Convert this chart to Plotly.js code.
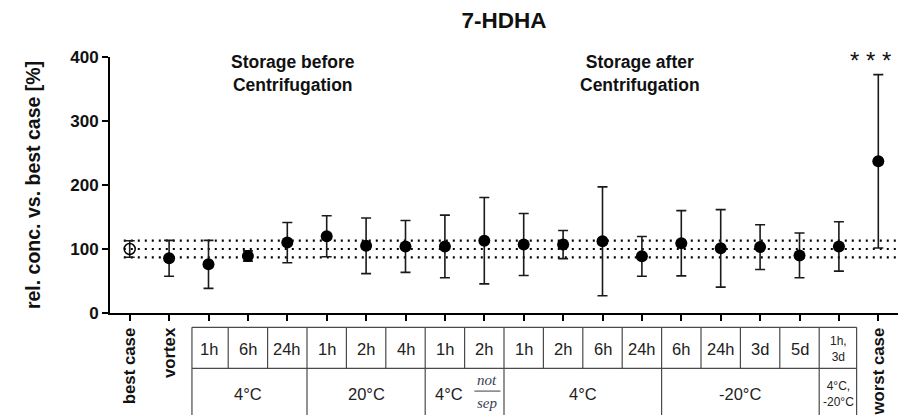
<!DOCTYPE html>
<html>
<head>
<meta charset="utf-8">
<script src="https://cdn.plot.ly/plotly-3.0.1.min.js"></script>
<style>html,body{margin:0;padding:0;background:#fff;}#chart{width:900px;height:415px;}</style>
</head>
<body>
<div id="chart"></div>
<script>
// ---- data ----
const categories = ['best case','vortex','4°C 1h','4°C 6h','4°C 24h','20°C 1h','20°C 2h','20°C 4h',
  '4°C 1h (before)','not sep 2h','4°C 1h (after)','4°C 2h (after)','4°C 6h (after)','4°C 24h (after)',
  '-20°C 6h','-20°C 24h','-20°C 3d','-20°C 5d','4°C,-20°C 1h,3d','worst case'];
const means  = [100, 85.5, 76, 89, 110, 120, 105, 104, 104, 113, 107, 107, 112, 88.5, 109, 101, 103, 90, 104, 237];
const errors = [13, 28, 37.5, 8, 31.5, 32, 43.5, 40.5, 49, 67.5, 48.5, 22, 85, 31, 51, 60.5, 35, 35, 38.5, 135.5];
const axisLabels = ['best case','vortex','','','','','','','','','','','','','','','','','','worst case'];
const timeLabels = ['1h','6h','24h','1h','2h','4h','1h','2h','1h','2h','6h','24h','6h','24h','3d','5d','1h,<br>3d'];
const tempLabels = ['4°C','20°C','4°C','4°C','-20°C','4°C,<br>-20°C'];
const tempSpans  = [3, 3, 2, 4, 4, 1];
const notSep = ['not','sep'];
const refLines = [87, 100, 113];
const yTicks = [0, 100, 200, 300, 400];
const groupTitles = ['Storage before<br>Centrifugation','Storage after<br>Centrifugation'];
const significance = '* * *';
const chartTitle = '7-HDHA';
const yTitle = 'rel. conc. vs. best case [%]';

// ---- build ----
const xs = categories.map((_, i) => i);
const FONT = 'Liberation Sans, Arial, sans-serif';
const trace = {
  type: 'scatter', mode: 'markers', x: xs, y: means, text: categories, hoverinfo: 'text+y',
  marker: {
    color: '#000', opacity: 1,
    symbol: means.map((_, i) => i === 0 ? 'circle-open' : 'circle'),
    size: means.map((_, i) => i === 0 ? 11 : 12),
    line: {color: '#000', width: means.map((_, i) => i === 0 ? 1.5 : 0)}
  },
  error_y: {type: 'data', array: errors, visible: true, color: '#1a1a1a', thickness: 1.6, width: 5},
  cliponaxis: false, showlegend: false
};

const shapes = [];
refLines.forEach(v => shapes.push({type: 'line', xref: 'x', yref: 'y', x0: -0.15, x1: 19.5, y0: v, y1: v,
  layer: 'below', line: {color: '#000', width: 2.2, dash: '2px,5px'}}));

// table geometry (paper y: 0 = x axis)
const tLeft = 1.58, tRight = 18.45, yTop = -0.056, yMid = -0.216, yBot = -0.45;
const tcol = '#4a4a4a';
const L = (x0, x1, y0, y1) => shapes.push({type: 'line', xref: 'x', yref: 'paper', x0, x1, y0, y1,
  line: {color: tcol, width: 1.2}});
L(tLeft, tRight, yTop, yTop);
L(tLeft, tRight, yMid, yMid);
L(tLeft, tLeft, yTop, yBot);
L(tRight, tRight, yTop, yBot);
for (let i = 2; i < 2 + timeLabels.length - 1; i++) L(i + 0.5, i + 0.5, yTop, yMid);
let acc = 2;
tempSpans.slice(0, -1).forEach(s => { acc += s; L(acc - 0.5, acc - 0.5, yMid, yBot); });

const annotations = [];
timeLabels.forEach((t, i) => {
  const small = t.indexOf('<br>') >= 0;
  annotations.push({text: t, x: i + 2, xref: 'x', y: -0.141, yref: 'paper', showarrow: false,
    xanchor: 'center', yanchor: 'middle', font: {family: FONT, size: small ? 12 : 16.5, color: '#222'}});
});
acc = 2;
tempSpans.forEach((s, k) => {
  const t = tempLabels[k];
  const small = t.indexOf('<br>') >= 0;
  let cx = acc + (s - 1) / 2;
  if (s === 2) cx = acc + 0.1; // cell shared with the "not sep" note
  annotations.push({text: t, x: cx, xref: 'x', y: -0.316, yref: 'paper', showarrow: false,
    xanchor: 'center', yanchor: 'middle', font: {family: FONT, size: small ? 12 : 16.5, color: '#222'}});
  if (s === 2) {
    const nx = acc + 1.08;
    annotations.push({text: '<i>' + notSep[0] + '</i>', x: nx, xref: 'x', y: -0.262, yref: 'paper', showarrow: false,
      xanchor: 'center', yanchor: 'middle', font: {family: 'Liberation Serif, Times New Roman, serif', size: 15, color: '#3a3d55'}});
    annotations.push({text: '<i>' + notSep[1] + '</i>', x: nx, xref: 'x', y: -0.352, yref: 'paper', showarrow: false,
      xanchor: 'center', yanchor: 'middle', font: {family: 'Liberation Serif, Times New Roman, serif', size: 15, color: '#3a3d55'}});
    shapes.push({type: 'line', xref: 'x', yref: 'paper', x0: nx - 0.33, x1: nx + 0.33, y0: -0.305, y1: -0.305,
      line: {color: '#3a3d55', width: 1}});
  }
  acc += s;
});

annotations.push({text: groupTitles[0], x: 4.14, xref: 'x', y: 0.934, yref: 'paper', showarrow: false,
  xanchor: 'center', yanchor: 'middle', font: {family: FONT, size: 17.5, color: '#111', weight: 'bold'}});
annotations.push({text: groupTitles[1], x: 12.94, xref: 'x', y: 0.934, yref: 'paper', showarrow: false,
  xanchor: 'center', yanchor: 'middle', font: {family: FONT, size: 17.5, color: '#111', weight: 'bold'}});
annotations.push({text: significance, x: 18.8, xref: 'x', y: 0.985, yref: 'paper', showarrow: false,
  xanchor: 'center', yanchor: 'middle', font: {family: FONT, size: 24, color: '#111'}});

const layout = {
  width: 900, height: 415,
  margin: {l: 110, r: 2, t: 57, b: 102, pad: 0},
  paper_bgcolor: '#fff', plot_bgcolor: '#fff',
  title: {text: chartTitle, x: 0.5, xref: 'paper', xanchor: 'center', y: 0.952, yref: 'container', yanchor: 'middle',
    font: {family: FONT, size: 22.5, color: '#111', weight: 'bold'}},
  xaxis: {range: [-0.5, 19.5], tickmode: 'array', tickvals: xs, ticktext: axisLabels, tickangle: -90,
    showgrid: false, zeroline: false, showline: true, linecolor: '#000', linewidth: 2,
    ticks: 'outside', ticklen: 6, tickwidth: 2, tickcolor: '#000',
    tickfont: {family: FONT, size: 16.8, color: '#111', weight: 'bold'}, fixedrange: true},
  yaxis: {range: [0, 400], tickmode: 'array', tickvals: yTicks, showgrid: false, zeroline: false,
    showline: true, linecolor: '#000', linewidth: 2, ticks: 'outside', ticklen: 6, tickwidth: 2, tickcolor: '#000',
    tickfont: {family: FONT, size: 17, color: '#111', weight: 'bold'},
    title: {text: yTitle, standoff: 24, font: {family: FONT, size: 19.5, color: '#111', weight: 'bold'}}, fixedrange: true},
  shapes, annotations, showlegend: false
};
Plotly.newPlot('chart', [trace], layout, {displayModeBar: false, staticPlot: true});
</script>
</body>
</html>
